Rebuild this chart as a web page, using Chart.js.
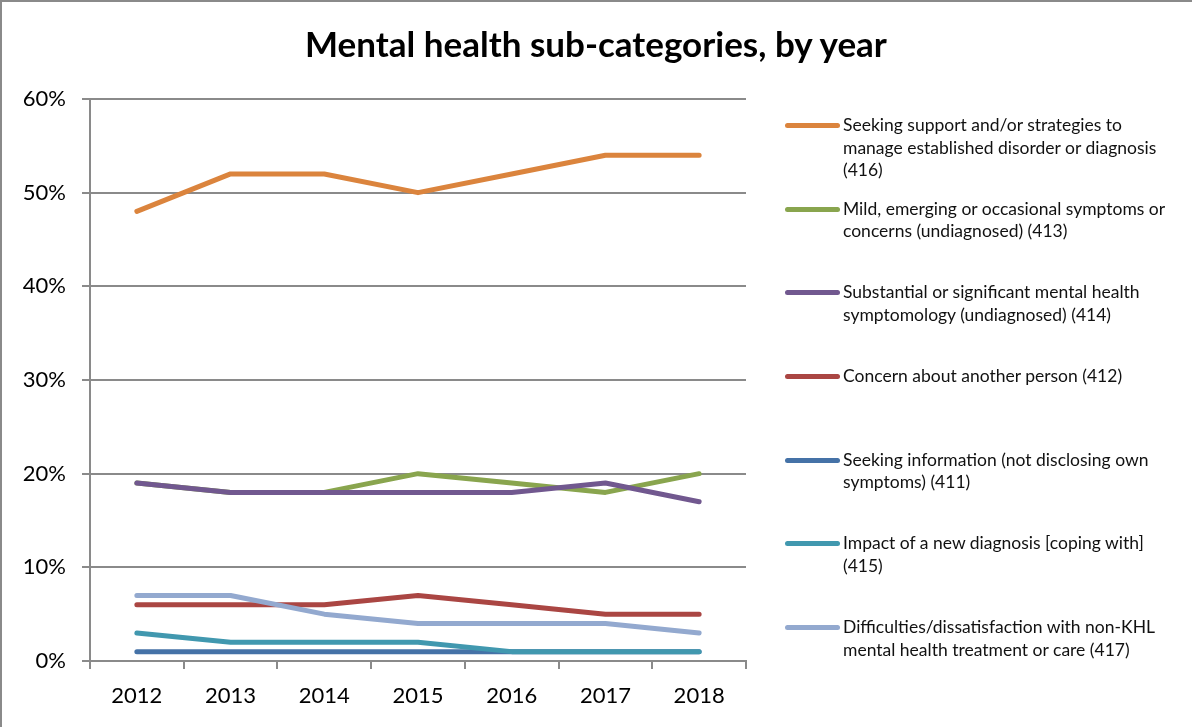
<!DOCTYPE html>
<html>
<head>
<meta charset="utf-8">
<script src="https://cdn.jsdelivr.net/npm/chart.js@4/dist/chart.umd.min.js"></script>
<style>
  html, body { margin: 0; padding: 0; background: #fff; overflow: hidden; }
  #frame {
    position: absolute; left: 0; top: 0; width: 1210px; height: 745px;
    box-sizing: border-box; border: 2px solid #8a8a8a;
  }
  #wrap { position: absolute; left: 0; top: 0; width: 1192px; height: 727px; }
  #title {
    position: absolute; left: 0; top: 22px; width: 1192px; text-align: center;
    font-family: Lato, "Open Sans", sans-serif; font-weight: bold; font-size: 35px; color: #000;
  }
  #legend {
    position: absolute; left: 785px; top: 114px; width: 405px;
    font-family: Lato, "Open Sans", sans-serif; font-size: 17.5px; color: #111;
  }
  .item { position: relative; height: 83.7px; }
  .swatch {
    position: absolute; left: 0; top: 9px; width: 55px; height: 5px; border-radius: 3px;
  }
  .label { position: absolute; left: 58px; top: 0; line-height: 22.6px; white-space: nowrap; }
</style>
</head>
<body>
<div id="wrap"><canvas id="c" width="1192" height="727"></canvas></div>
<div id="frame"></div>
<div id="title">Mental health sub-categories, by year</div>
<div id="legend"></div>
<script>
const years = ['2012', '2013', '2014', '2015', '2016', '2017', '2018'];

const seekingSupport   = [48, 52, 52, 50, 52, 54, 54];
const mildSymptoms     = [19, 18, 18, 20, 19, 18, 20];
const substantial      = [19, 18, 18, 18, 18, 19, 17];
const concernAnother   = [6, 6, 6, 7, 6, 5, 5];
const seekingInfo      = [1, 1, 1, 1, 1, 1, 1];
const newDiagnosis     = [3, 2, 2, 2, 1, 1, 1];
const nonKhlTreatment  = [7, 7, 5, 4, 4, 4, 3];

const seriesLabels = [
  ['Seeking support and/or strategies to', 'manage established disorder or diagnosis', '(416)'],
  ['Mild, emerging or occasional symptoms or', 'concerns (undiagnosed) (413)'],
  ['Substantial or significant mental health', 'symptomology (undiagnosed) (414)'],
  ['Concern about another person (412)'],
  ['Seeking information (not disclosing own', 'symptoms) (411)'],
  ['Impact of a new diagnosis [coping with]', '(415)'],
  ['Difficulties/dissatisfaction with non-KHL', 'mental health treatment or care (417)']
];
const seriesValues = [seekingSupport, mildSymptoms, substantial, concernAnother, seekingInfo, newDiagnosis, nonKhlTreatment];
const seriesColors = ['#DB843D', '#89A54E', '#71588F', '#AA4643', '#4572A7', '#4198AF', '#93A9CF'];

const yTicks = [0, 10, 20, 30, 40, 50, 60];

const datasets = seriesValues.map((vals, i) => ({
  label: seriesLabels[i].join(' '),
  data: vals,
  borderColor: seriesColors[i],
  backgroundColor: seriesColors[i],
  borderWidth: 5,
  borderCapStyle: 'round',
  borderJoinStyle: 'round',
  pointRadius: 0,
  pointHoverRadius: 0,
  tension: 0,
  fill: false,
  order: seriesValues.length - i
}));

const axisGray = '#8a8a8a';

new Chart(document.getElementById('c'), {
  type: 'line',
  data: { labels: years, datasets },
  options: {
    responsive: false,
    animation: false,
    layout: { padding: { left: 0, right: 446, top: 99, bottom: 0 } },
    plugins: {
      legend: { display: false },
      tooltip: { enabled: false },
      title: { display: false }
    },
    scales: {
      x: {
        offset: true,
        afterFit: s => { s.height = 66; },
        grid: {
          offset: true,
          drawOnChartArea: false,
          drawTicks: true,
          tickLength: 8,
          color: axisGray,
          lineWidth: 2
        },
        border: { display: true, color: axisGray, width: 2 },
        ticks: {
          color: '#000',
          font: { family: 'Lato', size: 22 },
          padding: 14,
          maxRotation: 0
        }
      },
      y: {
        min: 0,
        max: 60,
        afterFit: s => { s.width = 90; },
        afterBuildTicks: s => { s.ticks = yTicks.map(v => ({ value: v })); },
        grid: {
          drawTicks: true,
          tickLength: 8,
          color: axisGray,
          lineWidth: 2
        },
        border: { display: true, color: axisGray, width: 2 },
        ticks: {
          color: '#000',
          font: { family: 'Lato', size: 22 },
          padding: 16,
          callback: v => v + '%'
        }
      }
    }
  }
});

// Legend drawn as HTML beside the plot
const legend = document.getElementById('legend');
seriesLabels.forEach((lines, i) => {
  const item = document.createElement('div');
  item.className = 'item';
  const sw = document.createElement('div');
  sw.className = 'swatch';
  sw.style.background = seriesColors[i];
  const lab = document.createElement('div');
  lab.className = 'label';
  lab.innerHTML = lines.join('<br>');
  item.appendChild(sw);
  item.appendChild(lab);
  legend.appendChild(item);
});
</script>
</body>
</html>
